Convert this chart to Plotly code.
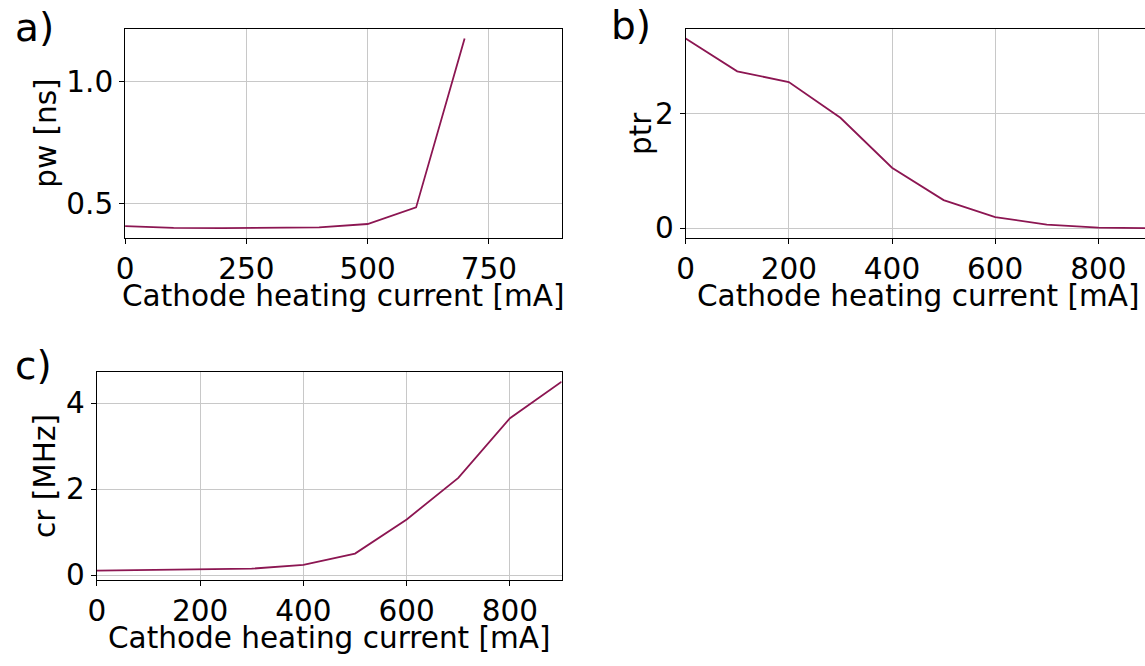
import plotly.graph_objects as go

# ---- data ----
current_mA = [0, 100, 200, 300, 400, 500, 600, 700, 800, 900]
pw_current_mA = [0, 100, 200, 300, 400, 500, 600, 700]
pw_ns = [0.408, 0.401, 0.400, 0.400, 0.403, 0.417, 0.485, 1.176]
ptr = [3.318, 2.744, 2.555, 1.931, 1.057, 0.491, 0.194, 0.063, 0.010, 0.001]
cr_MHz = [0.105, 0.115, 0.127, 0.150, 0.240, 0.500, 1.295, 2.260, 3.650, 4.500]

xlabel = "Cathode heating current [mA]"
ylabels = ["pw [ns]", "ptr", "cr [MHz]"]
panel_letters = ["a)", "b)", "c)"]

W, H = 1145, 666
LINE = "#8c1652"
FONT = "DejaVu Sans"
FS = 29.5

def px(x):
    return x / W

def py(y):
    return 1 - y / H

fig = go.Figure()
fig.add_trace(go.Scatter(x=pw_current_mA, y=pw_ns, mode="lines",
                         line=dict(color=LINE, width=1.8), xaxis="x", yaxis="y"))
fig.add_trace(go.Scatter(x=current_mA, y=ptr, mode="lines",
                         line=dict(color=LINE, width=1.8), xaxis="x2", yaxis="y2"))
fig.add_trace(go.Scatter(x=current_mA, y=cr_MHz, mode="lines",
                         line=dict(color=LINE, width=1.8), xaxis="x3", yaxis="y3"))

common = dict(showgrid=True, gridcolor="#c8c8c8", gridwidth=1, zeroline=False,
              showline=True, linecolor="black", linewidth=1, mirror=True,
              ticks="outside", ticklen=5, tickcolor="black",
              tickfont=dict(family=FONT, size=FS, color="black"))

fig.update_layout(
    width=W, height=H, margin=dict(l=0, r=0, t=0, b=0),
    paper_bgcolor="white", plot_bgcolor="white", showlegend=False,
    xaxis=dict(common, domain=[px(117), px(557)], range=[0, 900],
               tickvals=[0, 250, 500, 750], anchor="y"),
    yaxis=dict(common, domain=[py(242), py(29.5)], range=[0.3612, 1.2148],
               tickvals=[0.5, 1.0], ticktext=["0.5", "1.0"], anchor="x"),
    xaxis2=dict(common, domain=[px(682), 1.0], range=[0, 463 / 0.52],
                tickvals=[0, 200, 400, 600, 800], anchor="y2"),
    yaxis2=dict(common, domain=[py(242), py(29.5)], range=[-0.166, 3.484],
                tickvals=[0, 2], anchor="x2", mirror=False),
    xaxis3=dict(common, domain=[px(88.5), px(557)], range=[0, 900],
                tickvals=[0, 200, 400, 600, 800], anchor="y3"),
    yaxis3=dict(common, domain=[py(590.7), py(379)], range=[-0.115, 4.72],
                tickvals=[0, 2, 4], anchor="x3"),
)

annots = []
# x labels
for cx, cy in [((117 + 557) / 2, 301), ((682 + 1150) / 2, 301), ((88.5 + 557) / 2, 649.5)]:
    annots.append(dict(x=px(cx), y=py(cy), xref="paper", yref="paper", text=xlabel,
                       showarrow=False, xanchor="center", yanchor="middle",
                       font=dict(family=FONT, size=FS, color="black")))
# y labels
for (cx, cy), t in zip([(37, 135.5), (637, 135.5), (37, 485)], ylabels):
    annots.append(dict(x=px(cx), y=py(cy), xref="paper", yref="paper", text=t,
                       textangle=-90, showarrow=False, xanchor="center", yanchor="middle",
                       font=dict(family=FONT, size=FS, color="black")))
# panel letters
for (lx, ly), t in zip([(4, 28), (605, 26), (4, 372)], panel_letters):
    annots.append(dict(x=px(lx), y=py(ly), xref="paper", yref="paper", text=t,
                       showarrow=False, xanchor="left", yanchor="middle",
                       font=dict(family=FONT, size=39, color="black")))
fig.update_layout(annotations=annots)

fig.write_html("out.html")
